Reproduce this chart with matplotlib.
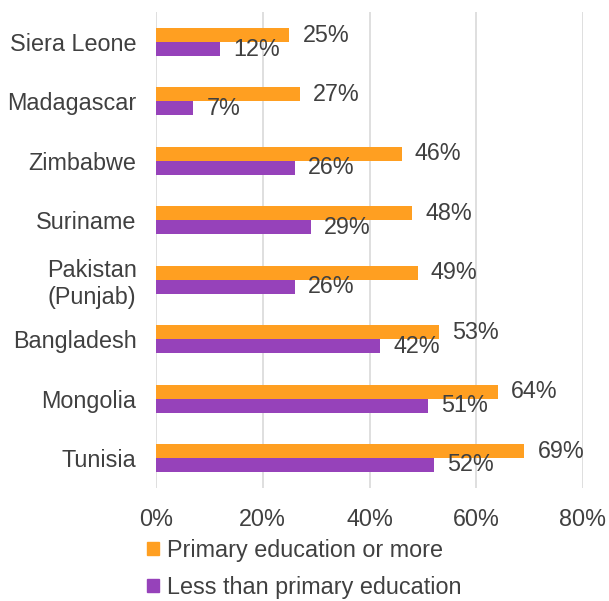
import matplotlib
matplotlib.use("Agg")
import matplotlib.pyplot as plt
import numpy as np

plt.rcParams['font.family'] = ['Liberation Sans', 'DejaVu Sans']

countries = ["Siera Leone", "Madagascar", "Zimbabwe", "Suriname",
             "Pakistan\n(Punjab)", "Bangladesh", "Mongolia", "Tunisia"]
primary_or_more = [25, 27, 46, 48, 49, 53, 64, 69]
less_than_primary = [12, 7, 26, 29, 26, 42, 51, 52]
series_names = ["Primary education or more", "Less than primary education"]
x_ticks = [0, 20, 40, 60, 80]

ORANGE = "#FF9F21"
PURPLE = "#9642BA"
TEXT = "#404040"
GRID = "#D9D9D9"
FS = 16.8

fig = plt.figure(figsize=(6.09, 6.01), dpi=100)
ax = fig.add_axes([0.2562, 0.1885, 0.7011, 0.791])

y = np.arange(len(countries))
h = 0.235
bars_o = ax.barh(y - h / 2, primary_or_more, height=h, color=ORANGE, zorder=3)
bars_p = ax.barh(y + h / 2, less_than_primary, height=h, color=PURPLE, zorder=3)

for bars, vals in ((bars_o, primary_or_more), (bars_p, less_than_primary)):
    for b, v in zip(bars, vals):
        ax.annotate(f"{v}%", xy=(v, b.get_y() + b.get_height() / 2),
                    xytext=(9.5, 0), textcoords="offset points",
                    ha="left", va="center", fontsize=FS, color=TEXT,
                    zorder=4)

ax.set_xlim(0, 80)
ax.set_ylim(len(countries) - 0.5, -0.5)
ax.set_xticks(x_ticks)
ax.set_xticklabels([f"{t}%" for t in x_ticks])
ax.set_yticks(y)
ax.set_yticklabels(countries)
for lbl in ax.get_yticklabels():
    lbl.set_multialignment("center")
ax.tick_params(axis="both", length=0, labelsize=FS, labelcolor=TEXT)
ax.tick_params(axis="y", pad=14)
ax.tick_params(axis="x", pad=14.5)
ax.grid(axis="x", color=GRID, linewidth=1.2, zorder=0)
for s in ax.spines.values():
    s.set_visible(False)

handles = [plt.Rectangle((0, 0), 1, 1, color=ORANGE),
           plt.Rectangle((0, 0), 1, 1, color=PURPLE)]
fig.legend(handles, series_names, loc="upper left",
           bbox_to_anchor=(0.242, 0.1035), frameon=False, fontsize=FS,
           labelcolor=TEXT, handlelength=0.5, handleheight=0.5,
           handletextpad=0.35, labelspacing=0.6, borderaxespad=0,
           borderpad=0)

fig.savefig("out.png", dpi=100)
